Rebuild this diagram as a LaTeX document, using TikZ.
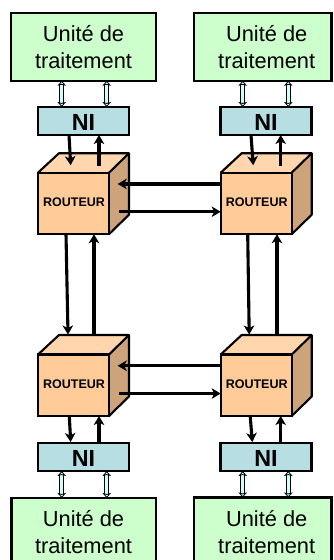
\documentclass[tikz,border=0pt]{standalone}
\usepackage{fontspec}
\setmainfont{Liberation Sans}
\usetikzlibrary{arrows.meta}
\definecolor{pu}{HTML}{CCFFCC}
\definecolor{nifill}{HTML}{B7DEE3}
\definecolor{front}{HTML}{FFCC99}
\definecolor{topf}{HTML}{FFD6AD}
\definecolor{side}{HTML}{CCA37A}
\definecolor{pale}{HTML}{CCFFFF}
\tikzset{
  x=1pt,y=-1pt,
  box/.style={draw=black,line width=2.1pt,inner sep=0pt,outer sep=0pt},
  pubox/.style={box,fill=pu,minimum height=67.7pt},
  nibox/.style={box,fill=nifill,minimum width=91pt,minimum height=28pt},
  frontbox/.style={box,fill=front,minimum width=71pt,minimum height=61.5pt},
  face/.style={draw=black,line width=2.1pt,line join=round},
  putext/.style={font=\fontsize{21.8}{26.5}\selectfont,align=center,inner sep=0pt,anchor=base},
  nitext/.style={font=\fontsize{23.3}{26}\selectfont\bfseries,inner sep=0pt,anchor=base},
  rtext/.style={font=\fontsize{12.5}{14}\selectfont\bfseries,inner sep=0pt,anchor=base},
  link/.style={line width=3.1pt,-{Stealth[length=9pt,width=10.5pt,inset=2.5pt]}},
  bus/.style={draw=black,line width=1pt,double=pale,double distance=3.4pt,
    {Stealth[length=5pt,width=8.5pt,inset=1pt,fill=pale,line width=.8pt]}-{Stealth[length=5pt,width=8.5pt,inset=1pt,fill=pale,line width=.8pt]}}
}
% name, x of front left, y of front top
\newcommand{\routerblock}[3]{%
  \fill[topf] (#2,#3) -- (#2+21,#3-19.5) -- (#2+91,#3-19.5) -- (#2+71,#3) -- cycle;
  \fill[side] (#2+71,#3) -- (#2+91,#3-19.5) -- (#2+91,#3+42) -- (#2+71,#3+61.5) -- cycle;
  \draw[face] (#2,#3) -- (#2+21,#3-19.5) -- (#2+91,#3-19.5) -- (#2+91,#3+42) -- (#2+71,#3+61.5);
  \draw[face] (#2+71,#3) -- (#2+91,#3-19.5);
  \node[frontbox,anchor=north west] (#1) at (#2,#3) {};
  \node[rtext] at (#2+36,#3+34) {ROUTEUR};
}
\begin{document}
\begin{tikzpicture}
\useasboundingbox (0,0) rectangle (333,560);
\begin{scope}
\clip (0,0) rectangle (333,560);
\fill[white] (0,0) rectangle (333,560);
% processing units
\node[pubox,minimum width=144.7pt,anchor=north west] (putl) at (11,13) {};
\node[pubox,minimum width=137.5pt,anchor=north west] (putr) at (194,13) {};
\node[pubox,minimum width=144.7pt,anchor=north west] (publ) at (11.5,498) {};
\node[pubox,minimum width=137.5pt,anchor=north west] (pubr) at (194,497.5) {};
\node[putext] at (83.5,41.7) {Unité de};
\node[putext] at (83.5,68.2) {traitement};
\node[putext] at (266.7,41.7) {Unité de};
\node[putext] at (266.7,68.2) {traitement};
\node[putext] at (83.5,526.7) {Unité de};
\node[putext] at (83.5,553) {traitement};
\node[putext] at (266.7,526.7) {Unité de};
\node[putext] at (266.7,553) {traitement};
% network interfaces
\node[nibox,anchor=north west] (nitl) at (38,107) {};
\node[nibox,anchor=north west] (nitr) at (220.5,107) {};
\node[nibox,anchor=north west] (nibl) at (38,443) {};
\node[nibox,anchor=north west] (nibr) at (220.5,443) {};
\node[nitext] at (83.5,130) {NI};
\node[nitext] at (266,130) {NI};
\node[nitext] at (83.5,466) {NI};
\node[nitext] at (266,466) {NI};
% routers
\routerblock{rtl}{38}{172.7}
\routerblock{rtr}{220.7}{172.7}
\routerblock{rbl}{38}{354.5}
\routerblock{rbr}{220.7}{354.5}
% bus arrows
\foreach \n/\p/\a in {nitl/putl/-21.8pt,nitl/putl/23.2pt,nitr/putr/-23.3pt,nitr/putr/22.3pt}{
  \draw[bus] ([xshift=\a]\n.north) -- ([xshift=\a]\n.north |- \p.south);
}
\foreach \n/\p/\a in {nibl/publ/-21.8pt,nibl/publ/23.2pt,nibr/pubr/-23.3pt,nibr/pubr/22.3pt}{
  \draw[bus] ([xshift=\a]\n.south) -- ([xshift=\a]\n.south |- \p.north);
}
% top links NI/router
\draw[link] ([xshift=-14.5pt]nitl.south) -- ([xshift=-2.8pt,yshift=7.5pt]rtl.north);
\draw[link] ([xshift=25.5pt,yshift=7pt]rtl.north) -- ([xshift=15.5pt]nitl.south);
\draw[link] ([xshift=-15pt]nitr.south) -- ([xshift=-3pt,yshift=7.5pt]rtr.north);
\draw[link] ([xshift=24.5pt,yshift=7pt]rtr.north) -- ([xshift=14.7pt]nitr.south);
% bottom links router/NI
\draw[link] ([xshift=-4.2pt]rbl.south) -- ([xshift=-12.8pt,yshift=1pt]nibl.north);
\draw[link] ([xshift=15.5pt]nibl.north) -- ([xshift=25.5pt]rbl.south);
\draw[link] ([xshift=-6pt]rbr.south) -- ([xshift=-13.7pt,yshift=1pt]nibr.north);
\draw[link] ([xshift=14.7pt]nibr.north) -- ([xshift=24.5pt]rbr.south);
% vertical links
\draw[link] ([xshift=-7.5pt]rtl.south) -- ([xshift=-5.5pt,yshift=20pt]rbl.north);
\draw[link] ([xshift=20.5pt,yshift=20pt]rbl.north) -- ([xshift=20.5pt]rtl.south);
\draw[link] ([xshift=-8.5pt]rtr.south) -- ([xshift=-7pt,yshift=20pt]rbr.north);
\draw[link] ([xshift=20.8pt,yshift=20pt]rbr.north) -- ([xshift=20.8pt]rtr.south);
% horizontal links
\draw[link] ([yshift=19.5pt]rtr.west) -- ([xshift=8.7pt,yshift=19.5pt]rtl.east);
\draw[link] ([xshift=10pt,yshift=-8.3pt]rtl.east) -- ([yshift=-8.3pt]rtr.west);
\draw[link] ([yshift=19.5pt]rbr.west) -- ([xshift=8.7pt,yshift=19.5pt]rbl.east);
\draw[link] ([xshift=10pt,yshift=-8.3pt]rbl.east) -- ([yshift=-8.3pt]rbr.west);
\end{scope}
\end{tikzpicture}
\end{document}
